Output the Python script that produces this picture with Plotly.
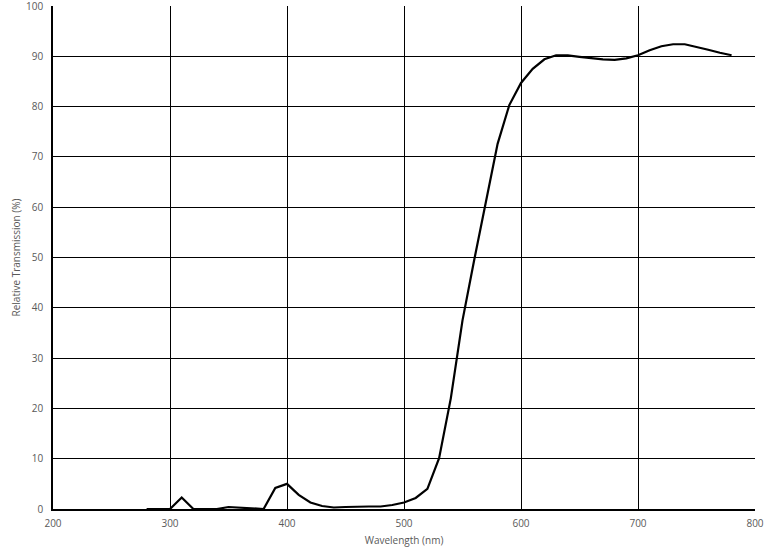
import plotly.graph_objects as go

wavelength = [280, 290, 300, 310, 320, 330, 340, 350, 360, 370, 380, 390, 400, 410, 420, 430, 440, 450, 460, 470,
              480, 490, 500, 510, 520, 530, 540, 550, 560, 570, 580, 590, 600, 610, 620, 630, 640, 650, 660, 670,
              680, 690, 700, 710, 720, 730, 740, 750, 760, 770, 780]
transmission = [0, 0, 0, 2.3, 0, 0, 0, 0.4, 0.3, 0.2, 0, 4.2, 5.0, 2.8, 1.3, 0.6, 0.3, 0.4, 0.5, 0.5,
                0.5, 0.8, 1.3, 2.2, 4.0, 10.1, 22, 37.5, 49.5, 61, 72.6, 80.3, 84.7, 87.5, 89.4, 90.2, 90.2, 89.9, 89.6, 89.4,
                89.3, 89.6, 90.2, 91.2, 92.0, 92.4, 92.4, 91.9, 91.3, 90.7, 90.2]

x_ticks = [200, 300, 400, 500, 600, 700, 800]
y_ticks = [0, 10, 20, 30, 40, 50, 60, 70, 80, 90, 100]

font_family = "Open Sans, Arial, sans-serif"
tickfont = dict(family=font_family, size=10, color="#595959")
titlefont = dict(family=font_family, size=10, color="#595959")

fig = go.Figure()
fig.add_trace(go.Scatter(x=wavelength, y=transmission, mode="lines",
                         line=dict(color="black", width=2.2), showlegend=False))

fig.update_layout(
    width=769, height=553,
    margin=dict(l=53, r=14, t=6, b=44),
    paper_bgcolor="white", plot_bgcolor="white",
    xaxis=dict(range=[200, 800], tickvals=x_ticks, showgrid=True, gridcolor="black", gridwidth=1,
               showline=True, linecolor="black", linewidth=1.5, zeroline=False, ticks="",
               tickfont=tickfont, ticklabelstandoff=4, automargin=False, ticklabeloverflow="allow",
               title=dict(text="Wavelength (nm)", font=titlefont, standoff=8)),
    yaxis=dict(range=[0, 100], tickvals=y_ticks, showgrid=True, gridcolor="black", gridwidth=1,
               showline=True, linecolor="black", linewidth=1.5, zeroline=False, ticks="",
               tickfont=tickfont, ticklabelstandoff=6, automargin=False, ticklabeloverflow="allow",
               title=dict(text="Relative Transmission (%)", font=titlefont, standoff=4)),
)
fig.write_html("out.html", config={"displayModeBar": False},
               post_script="document.body.style.margin='0';document.body.style.overflow='hidden';")
